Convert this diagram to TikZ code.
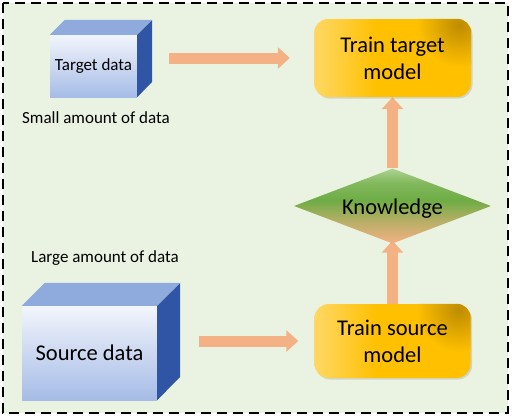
\documentclass[tikz,border=0pt]{standalone}
\usepackage{fontspec}
\setmainfont{Carlito}
\usetikzlibrary{arrows.meta,shapes.geometric,shadows}
\definecolor{bggreen}{RGB}{234,243,226}
\definecolor{peach}{RGB}{244,177,131}
\definecolor{goldA}{RGB}{255,216,100}
\definecolor{goldB}{RGB}{255,192,0}
\definecolor{goldDark}{RGB}{190,140,0}
\definecolor{faceTop}{RGB}{143,170,220}
\definecolor{faceSide}{RGB}{47,85,164}
\definecolor{frontTop}{RGB}{242,245,252}
\definecolor{frontBot}{RGB}{166,188,230}
\definecolor{gLight}{RGB}{172,211,146}
\definecolor{gMid}{RGB}{110,172,68}
\pgfdeclareverticalshading{knshade}{100bp}{color(0bp)=(peach); color(25bp)=(peach); color(40bp)=(peach!55!gMid); color(54bp)=(gMid); color(66bp)=(gMid!65!gLight); color(75bp)=(gLight); color(100bp)=(gLight)}
\pgfdeclarehorizontalshading{goldshade}{100bp}{color(0bp)=(goldA); color(25bp)=(goldA); color(45bp)=(goldB); color(100bp)=(goldB)}
\pgfdeclarelayer{bglayer}
\pgfdeclarelayer{arrlayer}
\pgfsetlayers{bglayer,arrlayer,main}
\tikzset{
  bigfont/.style={font=\fontsize{22.5}{27}\selectfont},
  smallfont/.style={font=\fontsize{17}{20}\selectfont},
  frontface/.style={shade, top color=frontTop, bottom color=frontBot, inner sep=0pt, smallfont},
  modelbox/.style={shade, shading=goldshade, rounded corners=14pt, inner sep=0pt,
    drop shadow={opacity=0.25, shadow xshift=1.5pt, shadow yshift=-1.5pt}},
  modeltext/.style={bigfont, align=center, inner sep=0pt},
  bigarrow/.style={draw=peach, line width=11pt, -{Triangle[length=12pt,width=21pt]}},
  frame/.style={draw=black, line width=1.8pt, dash pattern=on 10pt off 6pt, fill=bggreen}
}
\begin{document}
\begin{tikzpicture}[x=1pt,y=-1pt]
\useasboundingbox (0,0) rectangle (512,418);
\begin{pgfonlayer}{bglayer}
\draw[frame] (3,3) rectangle (508,413);
\end{pgfonlayer}

% target data box
\node[frontface, minimum width=87pt, minimum height=62pt] (tgt) at (93.5,66) {Target data};
\fill[faceTop] (tgt.north west) -- ++(15,-15) -- ++(87,0) -- (tgt.north east) -- cycle;
\fill[faceSide] (tgt.north east) -- ++(15,-15) -- ++(0,62) -- (tgt.south east) -- cycle;
\node[smallfont] (small) at (96,118) {Small amount of data};

% source data box
\node[frontface, bigfont, minimum width=135pt, minimum height=94pt] (src) at (89.5,353) {Source data};
\fill[faceTop] (src.north west) -- ++(23,-23) -- ++(135,0) -- (src.north east) -- cycle;
\fill[faceSide] (src.north east) -- ++(23,-23) -- ++(0,94) -- (src.south east) -- cycle;
\node[smallfont] (large) at (105,258) {Large amount of data};

% model boxes
\node[modelbox, minimum width=157pt, minimum height=78pt] (ttm) at (392.5,58) {};
\node[modelbox, minimum width=156pt, minimum height=74pt] (tsm) at (392.5,341) {};
\foreach \b in {ttm,tsm}{
  \begin{scope}
    \clip[rounded corners=14pt] (\b.south west) rectangle (\b.north east);
    \shade[inner color=goldDark, outer color=goldB] ([xshift=-12pt,yshift=-6pt]\b.north east) circle (42pt);
  \end{scope}
}
\node[modeltext] (ttmtext) at (ttm) {Train target\\model};
\node[modeltext] (tsmtext) at (tsm) {Train source\\model};

% knowledge diamond
\node[diamond, shade, shading=knshade, aspect=2.6, inner sep=0pt, minimum width=197pt, minimum height=75pt] (kn) at (392.5,206) {};
\node[bigfont, inner sep=0pt] (kntext) at (392.5,209) {Knowledge};

% arrows
\begin{pgfonlayer}{arrlayer}
\draw[bigarrow, shorten <=32pt, shorten >=24pt] (tgt.east |- ttm.west) -- (ttm.west);
\draw[bigarrow, shorten <=42pt, shorten >=16pt] (src.east |- tsm.west) -- (tsm.west);
\draw[bigarrow] (kn.north) -- (ttm.south);
\draw[bigarrow, shorten >=-3pt] (tsm.north) -- (kn.south);
\end{pgfonlayer}
\end{tikzpicture}
\end{document}
